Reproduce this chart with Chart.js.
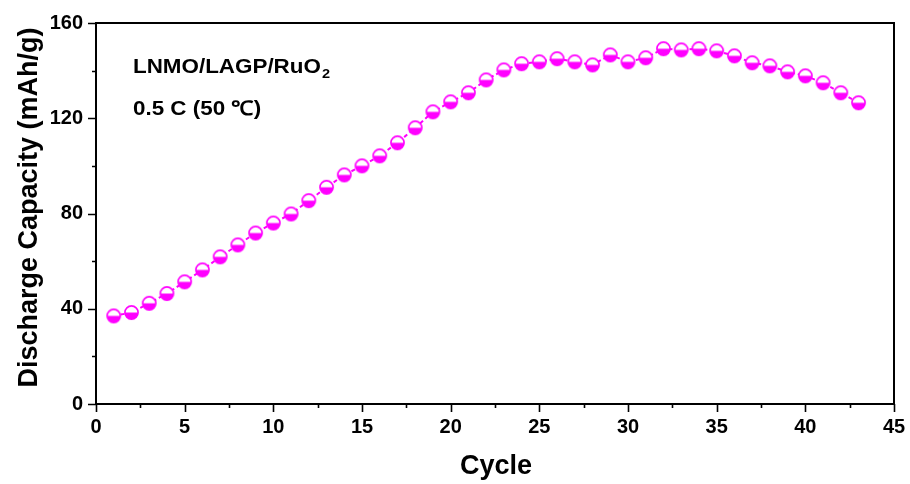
<!DOCTYPE html>
<html>
<head>
<meta charset="utf-8">
<script src="https://cdn.jsdelivr.net/npm/chart.js@4/dist/chart.umd.min.js"></script>
<style>
html,body{margin:0;padding:0;background:#fff;}
#wrap{position:relative;width:910px;height:484px;}
</style>
</head>
<body>
<div id="wrap"><canvas id="c" width="910" height="484"></canvas></div>
<script>
// ---- data ----
const cycles = [1,2,3,4,5,6,7,8,9,10,11,12,13,14,15,16,17,18,19,20,21,22,23,24,25,26,27,28,29,30,31,32,33,34,35,36,37,38,39,40,41,42,43];
const capacity = [37.0,38.4,42.3,46.4,51.3,56.3,61.8,66.8,71.8,76.0,79.8,85.4,91.0,96.2,100.0,104.2,109.7,116.0,122.7,126.9,130.7,136.1,140.3,142.9,143.7,145.0,143.7,142.4,146.6,143.7,145.4,149.2,148.7,149.2,148.3,146.2,143.3,142.0,139.5,137.8,134.9,130.7,126.5];
const xTickLabels = [0,5,10,15,20,25,30,35,40,45];
const yTickLabels = [0,40,80,120,160];
const xTitle = 'Cycle';
const yTitle = 'Discharge Capacity (mAh/g)';
const noteLine1 = 'LNMO/LAGP/RuO';
const noteLine1Sub = '2';
const noteLine2 = '0.5 C (50 \u2103)';

const MAG = '#ff00ff';
const FONT = "'Liberation Sans', Arial, sans-serif";

// half-filled circle marker
function makeMarker(){
  const s = 17, cv = document.createElement('canvas');
  cv.width = s; cv.height = s;
  const g = cv.getContext('2d');
  const c = s/2, r = 6.6;
  g.fillStyle = '#fff';
  g.beginPath(); g.arc(c,c,r,0,Math.PI*2); g.fill();
  g.fillStyle = MAG;
  g.beginPath(); g.arc(c,c,r,0,Math.PI,false); g.closePath(); g.fill();
  g.strokeStyle = MAG; g.lineWidth = 1.6;
  g.beginPath(); g.arc(c,c,r,0,Math.PI*2); g.stroke();
  return cv;
}
const marker = makeMarker();

const frame = {
  id:'frame',
  afterDraw(chart){
    const {ctx, chartArea:a, scales:{x,y}} = chart;
    ctx.save();
    ctx.strokeStyle = '#000';
    ctx.lineWidth = 2;
    ctx.strokeRect(a.left, a.top, a.right-a.left, a.bottom-a.top);
    ctx.lineWidth = 1.6;
    ctx.beginPath();
    for(let v=0; v<=45.001; v+=2.5){
      const px = Math.round(x.getPixelForValue(v))+0.5;
      const major = Math.abs(v/5 - Math.round(v/5))<1e-6;
      ctx.moveTo(px, a.bottom); ctx.lineTo(px, a.bottom + (major?8:4));
    }
    for(let v=0; v<=160.001; v+=20){
      const py = Math.round(y.getPixelForValue(v))+0.5;
      const major = v%40===0;
      ctx.moveTo(a.left, py); ctx.lineTo(a.left - (major?8:4), py);
    }
    ctx.stroke();
    // axis titles
    ctx.fillStyle = '#000';
    ctx.font = "bold 27px " + FONT;
    ctx.textAlign = 'center'; ctx.textBaseline = 'middle';
    ctx.fillText(xTitle, (a.left+a.right)/2 + 1, 467);
    ctx.save();
    ctx.translate(30, (a.top+a.bottom)/2 - 6);
    ctx.rotate(-Math.PI/2);
    ctx.fillText(yTitle, 0, 0);
    ctx.restore();
    // annotation (slightly widened glyphs as in the reference)
    ctx.textAlign = 'left'; ctx.textBaseline = 'alphabetic';
    const nx = 133, sx = 1.12;
    ctx.save();
    ctx.translate(nx, 0);
    ctx.scale(sx, 1);
    ctx.font = "bold 20px " + FONT;
    ctx.fillText(noteLine1, 0, 73);
    const w = ctx.measureText(noteLine1).width;
    ctx.font = "bold 13px " + FONT;
    ctx.fillText(noteLine1Sub, w + 1, 78);
    ctx.font = "bold 20px " + FONT;
    ctx.fillText(noteLine2, 0, 115);
    ctx.restore();
    ctx.restore();
  }
};

new Chart(document.getElementById('c'), {
  type:'line',
  data:{
    datasets:[{
      data: cycles.map((c,i)=>({x:c, y:capacity[i]})),
      borderColor: MAG,
      borderWidth: 2,
      borderDash: [4,3],
      pointStyle: marker,
      pointRadius: 7,
      pointHoverRadius: 7,
      tension: 0,
      clip: false
    }]
  },
  options:{
    responsive:false,
    animation:false,
    events:[],
    layout:{padding:{top:23,right:16,left:0,bottom:0}},
    plugins:{legend:{display:false}, tooltip:{enabled:false}},
    scales:{
      x:{
        type:'linear', min:0, max:45,
        afterBuildTicks(s){ s.ticks = xTickLabels.map(v=>({value:v})); },
        afterFit(s){ s.height = 80; s.paddingLeft = 0; s.paddingRight = 0; },
        grid:{display:false},
        border:{display:false},
        ticks:{color:'#000', padding:3, maxRotation:0, autoSkip:false,
               font:{family:FONT, weight:'bold', size:20}}
      },
      y:{
        type:'linear', min:0, max:160,
        afterBuildTicks(s){ s.ticks = yTickLabels.map(v=>({value:v})); },
        afterFit(s){ s.width = 96; s.paddingTop = 0; s.paddingBottom = 0; },
        grid:{display:false},
        border:{display:false},
        ticks:{color:'#000', padding:5,
               font:{family:FONT, weight:'bold', size:20}}
      }
    }
  },
  plugins:[frame]
});
</script>
</body>
</html>
